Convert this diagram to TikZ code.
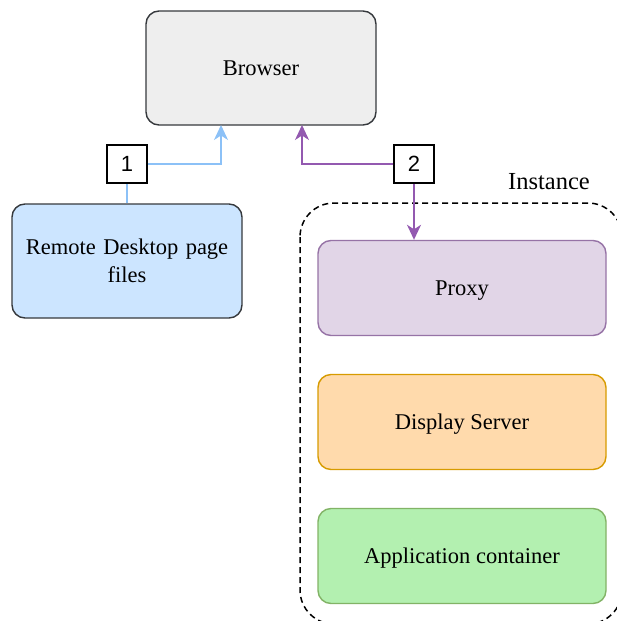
\documentclass[tikz,border=0pt]{standalone}
\usepackage{fontspec}
\setmainfont{Liberation Serif}
\newfontfamily\numfont{Liberation Sans}
\usetikzlibrary{arrows.meta}
\definecolor{browserfill}{HTML}{EEEEEE}
\definecolor{darkline}{HTML}{36393D}
\definecolor{remotefill}{HTML}{CCE5FF}
\definecolor{proxyfill}{HTML}{E1D5E7}
\definecolor{proxyline}{HTML}{9673A6}
\definecolor{dispfill}{HTML}{FFDAAC}
\definecolor{displine}{HTML}{D79B00}
\definecolor{appfill}{HTML}{B3F0B0}
\definecolor{appline}{HTML}{82B366}
\definecolor{blueconn}{HTML}{8CC1F7}
\definecolor{purpleconn}{HTML}{9359B0}
\tikzset{
    box/.style={draw,rounded corners=13pt,line width=1.4pt,inner sep=0pt,
        font=\fontsize{22.5}{28}\selectfont},
    layer/.style={box,minimum width=288pt,minimum height=95pt,
        text height=15.5pt,text depth=0pt},
    numbox/.style={draw=black,fill=white,line width=1.5pt,minimum width=40pt,
        minimum height=38pt,inner sep=0pt,font=\numfont\fontsize{22}{26}\selectfont},
    conn/.style={line width=1.6pt,-{Stealth[length=15pt,width=14pt,inset=4.5pt]}}
}
\begin{document}
\begin{tikzpicture}[x=1pt,y=-1pt]
    \useasboundingbox (0,0) rectangle (617,621);
    % instance frame
    \draw[line width=1.5pt,dash pattern=on 6pt off 4pt,rounded corners=34pt]
        (300,203) rectangle (622,624);
    \node[font=\fontsize{24.5}{28}\selectfont] (inst) at (549,182) {Instance};
    % boxes
    \node[box,fill=browserfill,draw=darkline,minimum width=230pt,minimum height=114pt,
        text height=15.5pt,text depth=0pt] (browser) at (261,68) {Browser};
    \node[box,fill=remotefill,draw=darkline,minimum width=230pt,minimum height=114pt,
        align=center,text width=220pt] (remote) at (127,261) {Remote Desktop page\\files};
    \node[layer,fill=proxyfill,draw=proxyline] (proxy) at (462,288) {Proxy};
    \node[layer,fill=dispfill,draw=displine] (disp) at (462,422) {Display Server};
    \node[layer,fill=appfill,draw=appline] (app) at (462,556) {Application container};
    % step labels
    \node[numbox] (lab1) at (127,164) {1};
    \node[numbox] (lab2) at (414,164) {2};
    \coordinate (b1) at (221,125);
    \coordinate (b2) at (302,125);
    % connectors
    \draw[line width=1.6pt,blueconn] (remote.north) -- (lab1.south);
    \draw[conn,blueconn] (lab1.east) -| (b1);
    \draw[conn,purpleconn] (lab2.west) -| (b2);
    \draw[conn,purpleconn] (lab2.south) -- (lab2.south |- proxy.north);
\end{tikzpicture}
\end{document}
